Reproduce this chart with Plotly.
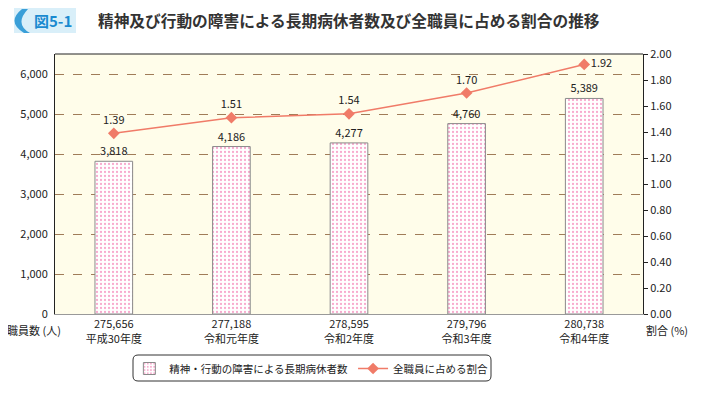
import plotly.graph_objects as go

years = ["平成30年度", "令和元年度", "令和2年度", "令和3年度", "令和4年度"]
total_staff = ["275,656", "277,188", "278,595", "279,796", "280,738"]
sick_leave = [3818, 4186, 4277, 4760, 5389]
ratio = [1.39, 1.51, 1.54, 1.70, 1.92]

FONT = "Noto Sans CJK JP"
cats = [f"{s}<br>{y}" for s, y in zip(total_staff, years)]

# page body has an 8px margin; figure is sized to fit the 703x397 window
OFF = 8
W, H = 703 - OFF, 397 - OFF
PL, PR, PT, PB = 55, 643, 54, 314  # plot area in window pixels

fig = go.Figure()
fig.add_trace(go.Bar(
    x=cats, y=sick_leave, name="精神・行動の障害による長期病休者数",
    width=0.32,
    marker=dict(color="white", line=dict(color="#8a8a8a", width=1),
                pattern=dict(shape=".", fgcolor="#f0569c", bgcolor="white", size=4, solidity=0.25)),
    text=[f"{v:,}" for v in sick_leave], textposition="outside",
    textfont=dict(size=11, color="#222"), cliponaxis=False,
))
fig.add_trace(go.Scatter(
    x=cats, y=ratio, name="全職員に占める割合", yaxis="y2",
    mode="lines+markers+text",
    line=dict(color="#f07b68", width=1.5),
    marker=dict(symbol="diamond", size=9, color="#f07b68"),
    text=[f"{v:.2f}" for v in ratio],
    textposition=["top center"] * 4 + ["middle right"],
    textfont=dict(size=11, color="#222"), cliponaxis=False,
))

fig.update_layout(
    width=W, height=H,
    margin=dict(l=PL - OFF, r=W - (PR - OFF), t=PT - OFF, b=H - (PB - OFF), autoexpand=False),
    paper_bgcolor="white", plot_bgcolor="#fffdea",
    font=dict(family=FONT, size=11, color="#222"),
    xaxis=dict(showgrid=False, showline=True, linecolor="#999", linewidth=1,
               ticks="", tickfont=dict(size=11), automargin=False),
    yaxis=dict(range=[0, 6500], tickvals=[0, 1000, 2000, 3000, 4000, 5000, 6000],
               tickformat=",", showgrid=True, gridcolor="#a07c58", griddash="dash",
               gridwidth=1, zeroline=False, showline=True, linecolor="#222",
               linewidth=1, ticks="", ticklabelstandoff=4, automargin=False),
    yaxis2=dict(range=[0, 2.0], dtick=0.2, tickformat=".2f", overlaying="y",
                side="right", showgrid=False, zeroline=False, showline=True,
                linecolor="#222", linewidth=1, ticks="outside", ticklen=4,
                tickcolor="#222", automargin=False),
    legend=dict(orientation="h", x=0.436, xanchor="center",
                yref="container", y=1 - (354 - OFF) / H, yanchor="top",
                bgcolor="rgba(0,0,0,0)", borderwidth=0, font=dict(size=10.5),
                tracegroupgap=0),
    showlegend=True,
)

# top frame line
fig.add_shape(type="line", xref="paper", yref="paper", x0=0, x1=1, y0=1, y1=1,
              line=dict(color="#222", width=1))

def px_x(p):
    return (p - PL) / (PR - PL)
def px_y(p):
    return (PB - p) / (PB - PT)

# legend rounded box
x0, x1, y0, y1, r = 133, 491, 355, 381, 5
path = (f"M {px_x(x0 + r)},{px_y(y0)} L {px_x(x1 - r)},{px_y(y0)} "
        f"Q {px_x(x1)},{px_y(y0)} {px_x(x1)},{px_y(y0 + r)} "
        f"L {px_x(x1)},{px_y(y1 - r)} Q {px_x(x1)},{px_y(y1)} {px_x(x1 - r)},{px_y(y1)} "
        f"L {px_x(x0 + r)},{px_y(y1)} Q {px_x(x0)},{px_y(y1)} {px_x(x0)},{px_y(y1 - r)} "
        f"L {px_x(x0)},{px_y(y0 + r)} Q {px_x(x0)},{px_y(y0)} {px_x(x0 + r)},{px_y(y0)} Z")
fig.add_shape(type="path", xref="paper", yref="paper", path=path,
              line=dict(color="#333", width=1), fillcolor="rgba(0,0,0,0)")

# title badge
fig.add_shape(type="rect", xref="paper", yref="paper",
              x0=px_x(14), x1=px_x(76), y0=px_y(33), y1=px_y(8),
              fillcolor="#d9eff9", line=dict(width=0), layer="above")
badge = (f"M {px_x(22)},{px_y(9)} Q {px_x(6)},{px_y(22)} {px_x(24)},{px_y(33)} "
         f"L {px_x(30)},{px_y(33)} Q {px_x(14)},{px_y(24)} {px_x(28)},{px_y(9)} Z")
fig.add_shape(type="path", xref="paper", yref="paper", path=badge,
              fillcolor="#3a9fd8", line=dict(width=0), layer="above")

fig.add_annotation(xref="paper", yref="paper", x=px_x(32), y=px_y(20.5),
                   xanchor="left", yanchor="middle", showarrow=False,
                   text="<b>図5-1</b>", font=dict(size=15, color="#1a8ad0", family=FONT))
fig.add_annotation(xref="paper", yref="paper", x=px_x(96), y=px_y(20.5),
                   xanchor="left", yanchor="middle", showarrow=False,
                   text="<b>精神及び行動の障害による長期病休者数及び全職員に占める割合の推移</b>",
                   font=dict(size=15.7, color="#333", family=FONT))

# axis titles
fig.add_annotation(xref="paper", yref="paper", x=px_x(5), y=px_y(330),
                   xanchor="left", yanchor="middle", showarrow=False,
                   text="職員数 (人)", font=dict(size=11, color="#222"))
fig.add_annotation(xref="paper", yref="paper", x=px_x(644), y=px_y(330),
                   xanchor="left", yanchor="middle", showarrow=False,
                   text="割合 (%)", font=dict(size=11, color="#222"))

fig.write_html("out.html")
